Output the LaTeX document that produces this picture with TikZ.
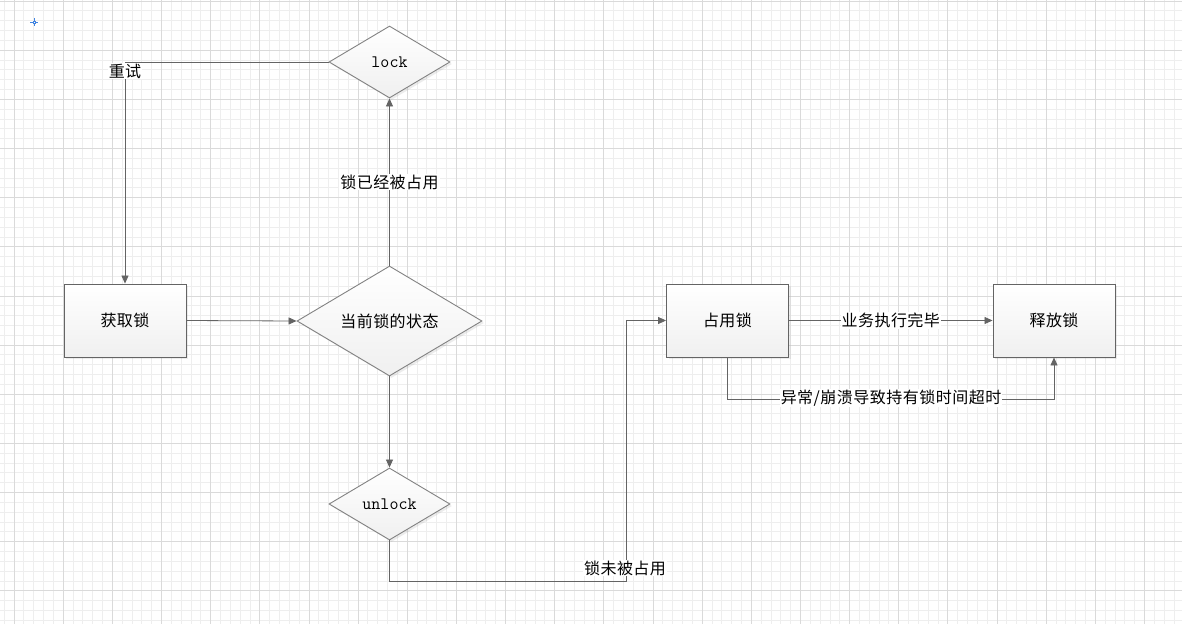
\documentclass[tikz,border=0pt]{standalone}
\usepackage{fontspec}
\usetikzlibrary{arrows.meta,shapes.geometric,shadows}
\newfontfamily\cjk[LetterSpace=3]{Noto Sans CJK SC}
\definecolor{gridminor}{RGB}{238,238,238}
\definecolor{gridmajor}{RGB}{218,218,218}
\definecolor{edgegray}{RGB}{100,100,100}
\definecolor{shapegray}{RGB}{130,130,130}
\definecolor{pickblue}{RGB}{66,133,224}

\tikzset{
  box/.style={rectangle, draw=edgegray, line width=0.9pt, top color=white, bottom color=gray!12,
    minimum width=122pt, minimum height=73pt, inner sep=0pt, font=\cjk\fontsize{16}{16}\selectfont,
    drop shadow={shadow xshift=2pt, shadow yshift=-2pt, opacity=0.15}},
  decision/.style={diamond, draw=shapegray, line width=0.9pt, top color=white, bottom color=gray!12,
    aspect=1.7, inner sep=0pt, font=\cjk\fontsize{16}{16}\selectfont,
    drop shadow={shadow xshift=2pt, shadow yshift=-2pt, opacity=0.15}},
  keyword/.style={font=\ttfamily\fontsize{17.5}{17.5}\selectfont},
  flow/.style={draw=edgegray, line width=0.8pt, -{Triangle[width=7pt,length=8pt]}},
  lbl/.style={fill=white, inner sep=1pt, font=\cjk\fontsize{16}{16}\selectfont}
}

\begin{document}
\begin{tikzpicture}[x=1pt,y=-1pt]
\useasboundingbox (0,0) rectangle (1182,624);
\fill[white] (0,0) rectangle (1182,624);
% grid
\foreach \i in {-1,...,119} {
  \draw[gridminor, line width=0.8pt] ({14+9.83*\i},0) -- ({14+9.83*\i},624);
}
\foreach \i in {0,...,63} {
  \draw[gridminor, line width=0.8pt] (0,{1+9.83*\i}) -- (1182,{1+9.83*\i});
}
\foreach \i in {0,...,23} {
  \draw[gridmajor, line width=0.8pt] ({14+49.15*\i},0) -- ({14+49.15*\i},624);
}
\foreach \i in {0,...,12} {
  \draw[gridmajor, line width=0.8pt] (0,{1+49.15*\i}) -- (1182,{1+49.15*\i});
}
% marker
\draw[pickblue, line width=0.9pt] (30,22) -- (38,22) (34,18) -- (34,26);
\draw[pickblue, line width=0.6pt, fill=white] (33,21) rectangle (35,23);

% nodes
\node[box] (acquire) at (125,320.5) {获取锁};
\node[decision, minimum width=185pt, minimum height=110pt] (state) at (389.5,321) {当前锁的状态};
\node[decision, keyword, minimum width=121pt, minimum height=72pt] (lock) at (389.5,62) {lock};
\node[decision, keyword, minimum width=121pt, minimum height=72pt] (unlock) at (389.5,504) {unlock};
\node[box] (occupy) at (727.5,320.5) {占用锁};
\node[box] (release) at (1054,320.5) {释放锁};

\coordinate (retryc) at (125,62);
\coordinate (freec) at (626,581);
\coordinate (lowc) at (1054,399);

% connectors
\draw[flow] (lock.west) -- (retryc) -- (acquire.north);
\node[lbl] (retry) at (125,71) {重试};
\draw[flow] (acquire.east) -- (state.west);
\draw[flow] (state.north) -- node[lbl] (busy) {锁已经被占用} (lock.south);
\draw[flow] (state.south) -- (unlock.north);
\draw[flow] (unlock.south) |- (freec) |- (occupy.west);
\node[lbl] (free) at (625,568) {锁未被占用};
\draw[flow] (occupy.east) -- node[lbl] (done) {业务执行完毕} (release.west);
\draw[flow] (occupy.south) |- (lowc) -- (release.south);
\node[lbl] (timeout) at (891,398) {异常/崩溃导致持有锁时间超时};
\end{tikzpicture}
\end{document}
